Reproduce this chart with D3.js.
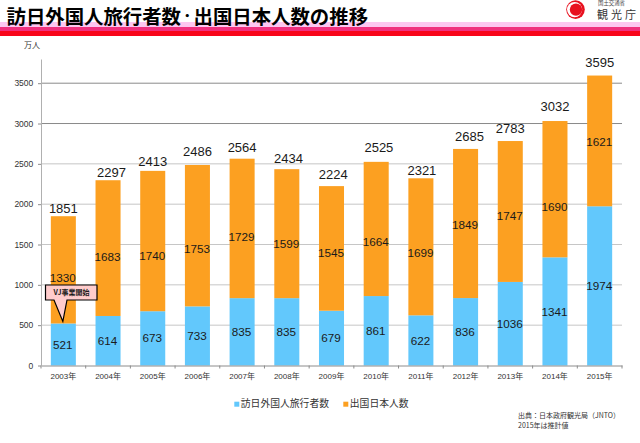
<!DOCTYPE html>
<html>
<head>
<meta charset="utf-8">
<script src="https://cdn.jsdelivr.net/npm/d3@7"></script>
<style>
  html, body { margin: 0; padding: 0; background: #fff; }
  text { font-family: "Liberation Sans", "Noto Sans CJK JP", sans-serif; fill: #1a1a1a; }
  .jp { font-family: "Noto Sans CJK JP", sans-serif; }
</style>
</head>
<body>
<div id="chart-container"></div>
<script>
// Data
const years = ["2003年", "2004年", "2005年", "2006年", "2007年", "2008年", "2009年", "2010年", "2011年", "2012年", "2013年", "2014年", "2015年"];
const inbound = [521, 614, 673, 733, 835, 835, 679, 861, 622, 836, 1036, 1341, 1974];
const outbound = [1330, 1683, 1740, 1753, 1729, 1599, 1545, 1664, 1699, 1849, 1747, 1690, 1621];
const totals = [1851, 2297, 2413, 2486, 2564, 2434, 2224, 2525, 2321, 2685, 2783, 3032, 3595];
const yTicks = [0, 500, 1000, 1500, 2000, 2500, 3000, 3500];
const seriesNames = ["訪日外国人旅行者数", "出国日本人数"];
const colors = ["#62C8FC", "#FCA021"];

const svg = d3.select("#chart-container").append("svg")
    .attr("width", 640)
    .attr("height", 443)
    .style("display", "block");

// Header bands
svg.append("rect").attr("x", 0).attr("y", 22).attr("width", 640).attr("height", 5).attr("fill", "#FDC6F0");
svg.append("rect").attr("x", 0).attr("y", 27).attr("width", 640).attr("height", 4).attr("fill", "#F0307E");
svg.append("rect").attr("x", 0).attr("y", 31).attr("width", 640).attr("height", 5).attr("fill", "#F8051A");

const title = svg.append("text").attr("class", "jp")
    .attr("x", 6.5).attr("y", 23.5)
    .style("font-size", "19.4px").style("font-weight", 700).style("fill", "#000");
title.append("tspan").text("訪日外国人旅行者数");
title.append("tspan").attr("dy", -2.5).style("font-size", "12.5px").text("・");
title.append("tspan").attr("dy", 2.5).text("出国日本人数の推移");

// Logo
const logo = svg.append("g");
logo.append("circle").attr("cx", 575.5).attr("cy", 9.6).attr("r", 9.3).attr("fill", "#E8101E");
logo.append("circle").attr("cx", 574.6).attr("cy", 9.6).attr("r", 7.6).attr("fill", "#fff");
logo.append("circle").attr("cx", 576).attr("cy", 9.6).attr("r", 6.2).attr("fill", "#E8101E");
logo.append("text").attr("class", "jp").attr("x", 598).attr("y", 4.5).style("font-size", "5.4px").style("fill", "#444").text("国土交通省");
logo.append("text").attr("class", "jp").attr("x", 597).attr("y", 18.5).style("font-size", "11px").style("letter-spacing", "3px").style("fill", "#333").text("観光庁");

// Scales
const x = d3.scaleBand().domain(years).range([41, 622]).paddingInner(0.44).paddingOuter(0.22);
const y = d3.scaleLinear().domain([0, 3800]).range([365.5, 59]);

// Gridlines, the top two are darker in the original
svg.append("g").selectAll("line")
    .data(yTicks.filter(d => d > 0))
    .enter().append("line")
    .attr("x1", 41).attr("x2", 622)
    .attr("y1", d => y(d)).attr("y2", d => y(d))
    .attr("stroke", d => d >= 3000 ? "#8a8a8a" : "#c6c6c6")
    .attr("stroke-width", 1);

// Stacked bars
const rows = years.map((year, i) => ({ year, inbound: inbound[i], outbound: outbound[i] }));
const stacked = d3.stack().keys(["inbound", "outbound"])(rows);

svg.selectAll(".series")
    .data(stacked)
    .enter().append("g")
    .attr("class", "series")
    .attr("fill", (d, i) => colors[i])
    .selectAll("rect")
    .data(d => d)
    .enter().append("rect")
    .attr("x", d => x(d.data.year))
    .attr("y", d => y(d[1]))
    .attr("width", x.bandwidth())
    .attr("height", d => y(d[0]) - y(d[1]));

// Axes
const xAxis = svg.append("g")
    .attr("transform", "translate(0,365.5)")
    .call(d3.axisBottom(x).tickSizeOuter(0));
xAxis.selectAll(".tick line").remove();
xAxis.select(".domain").attr("stroke", "#8c8c8c");
xAxis.selectAll("text").attr("y", 8).style("font-size", "8px").style("fill", "#333");
// tick marks sit between the bars
xAxis.selectAll(".between")
    .data(d3.range(years.length + 1))
    .enter().append("line")
    .attr("x1", i => 41 + i * x.step()).attr("x2", i => 41 + i * x.step())
    .attr("y1", 0).attr("y2", 3)
    .attr("stroke", "#8c8c8c");

const yAxis = svg.append("g")
    .attr("transform", "translate(41,0)")
    .call(d3.axisLeft(y).tickValues(yTicks).tickSize(3).tickSizeOuter(0).tickFormat(d3.format("d")));
yAxis.select(".domain").attr("stroke", "#b0b0b0").attr("stroke-width", 1);
yAxis.selectAll(".tick line").attr("stroke", "#8c8c8c");
yAxis.selectAll("text").attr("x", -7.7).style("font-size", "8.5px").style("fill", "#333");

svg.append("text").attr("class", "jp")
    .attr("x", 24).attr("y", 47.5)
    .style("font-size", "8px").style("fill", "#333")
    .text("万人");

// Value labels, moved by hand like the original
const outboundNudge = [8, 9, 14.5, 13, 8.6, 10, 4.6, 13, 6.2, 1.3, 4.3, 18, 0.7];
const totalNudgeX = [0, 3.5, 0, 0, 0, 1.6, 1.8, 2.7, 1, 4, 0, 0, 0];
const totalNudgeY = [-8, -7.5, -9, -14, -11, -10.4, -11.7, -14, -8.3, -12.4, -12.4, -14.3, -12.7];

function valueLabels(values, base, nudge) {
    svg.append("g").selectAll("text")
        .data(values)
        .enter().append("text")
        .attr("x", (d, i) => x(years[i]) + x.bandwidth() / 2 - 0.5)
        .attr("y", (d, i) => y(base[i] + d / 2) + nudge[i])
        .attr("text-anchor", "middle")
        .attr("dy", "0.35em")
        .style("font-size", "11.7px")
        .text(d => d);
}
valueLabels(inbound, inbound.map(() => 0), inbound.map(() => 0));
valueLabels(outbound, inbound, outboundNudge);

svg.append("g").selectAll("text")
    .data(totals)
    .enter().append("text")
    .attr("x", (d, i) => x(years[i]) + x.bandwidth() / 2 + totalNudgeX[i])
    .attr("y", (d, i) => y(d) + totalNudgeY[i])
    .attr("text-anchor", "middle")
    .attr("dy", "0.35em")
    .style("font-size", "13px")
    .text(d => d);

// Callout for 2003
const callout = svg.append("g");
const tipX = x("2003年") + x.bandwidth() / 2 - 0.5;
const tipY = y(521) - 2;
callout.append("path")
    .attr("d", `M45.5,285H97V300H67L${tipX},${tipY}L54,300H45.5Z`)
    .attr("fill", "#FFCCCC").attr("stroke", "#000").attr("stroke-width", 1.2);
callout.append("text").attr("class", "jp")
    .attr("x", 71.5).attr("y", 295)
    .attr("text-anchor", "middle")
    .style("font-size", "7px").style("font-weight", 700)
    .text("VJ事業開始");

// Legend
const legend = svg.append("g").selectAll("g")
    .data(seriesNames)
    .enter().append("g")
    .attr("transform", (d, i) => "translate(" + [234.3, 343.3][i] + ",401)");
legend.append("rect").attr("x", 0).attr("y", 0.7).attr("width", 5).attr("height", 5).attr("fill", (d, i) => colors[i]);
legend.append("text").attr("class", "jp")
    .attr("x", 6.5).attr("y", 6.2)
    .style("font-size", "9.8px").style("fill", "#333")
    .text(d => d);

// Source note
svg.append("text").attr("class", "jp").attr("x", 518).attr("y", 418).style("font-size", "7px").style("fill", "#333").text("出典：日本政府観光局（JNTO）");
svg.append("text").attr("class", "jp").attr("x", 518).attr("y", 428).style("font-size", "7px").style("fill", "#333").text("2015年は推計値");
</script>
</body>
</html>
